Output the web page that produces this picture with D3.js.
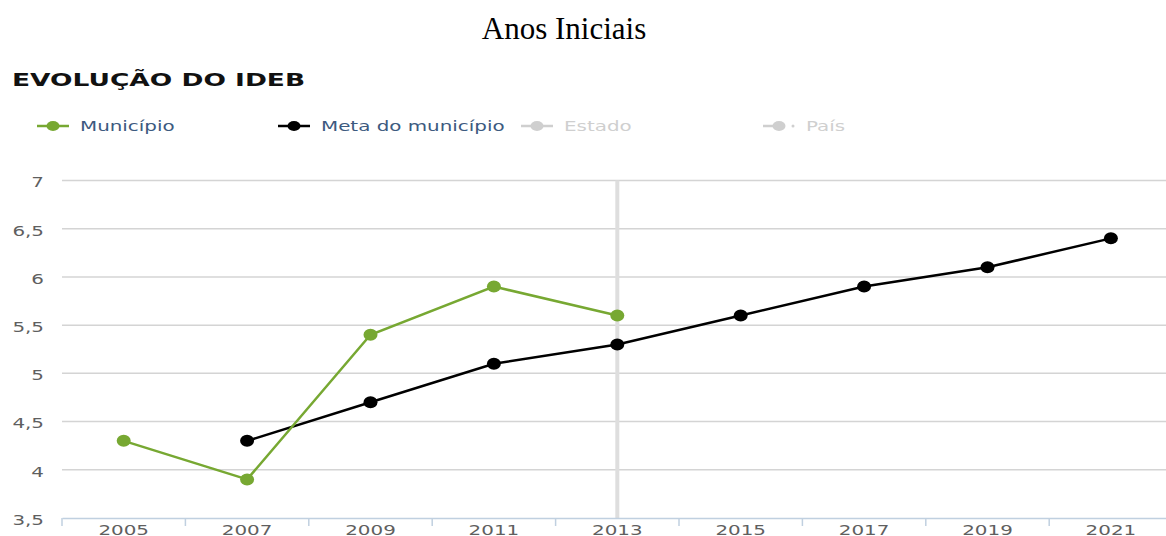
<!DOCTYPE html>
<html>
<head>
<meta charset="utf-8">
<script src="https://cdn.jsdelivr.net/npm/d3@7"></script>
<style>
  body { margin: 0; background: #fff; }
  svg { display: block; }
</style>
</head>
<body>
<svg id="chart" width="1166" height="536"></svg>
<script>
// anos / valores
var years = ['2005', '2007', '2009', '2011', '2013', '2015', '2017', '2019', '2021'];
var municipio = [
  {year: '2005', value: 4.3},
  {year: '2007', value: 3.9},
  {year: '2009', value: 5.4},
  {year: '2011', value: 5.9},
  {year: '2013', value: 5.6}
];
var metaMunicipio = [
  {year: '2007', value: 4.3},
  {year: '2009', value: 4.7},
  {year: '2011', value: 5.1},
  {year: '2013', value: 5.3},
  {year: '2015', value: 5.6},
  {year: '2017', value: 5.9},
  {year: '2019', value: 6.1},
  {year: '2021', value: 6.4}
];
var yTicks = [3.5, 4, 4.5, 5, 5.5, 6, 6.5, 7];
var legendItems = [
  {name: 'Município', color: '#77a832', text: '#3d5a80', x: 37},
  {name: 'Meta do município', color: '#000', text: '#3d5a80', x: 278},
  {name: 'Estado', color: '#cfcfcf', text: '#cfcfcf', x: 521},
  {name: 'País', color: '#cfcfcf', text: '#cfcfcf', x: 763}
];
var highlightYear = '2013';

var svg = d3.select('#chart');
var width = 1166, height = 536;

var x = d3.scaleBand().domain(years).range([62, 62 + 9 * 123.4]);
var y = d3.scaleLinear().domain([3.5, 7]).range([518, 180.5]);

var sans = 'DejaVu Sans, Verdana, sans-serif';
var stretch = 'scale(1.42,1)'; // o print original esta esticado na horizontal

// titulo
svg.append('text')
  .attr('x', 564).attr('y', 39)
  .attr('text-anchor', 'middle')
  .style('font-family', '"Liberation Serif", "Times New Roman", serif')
  .style('font-size', '31px')
  .attr('fill', '#000')
  .text('Anos Iniciais');

svg.append('text')
  .attr('transform', 'translate(12,86) scale(1.47,1)')
  .style('font-family', sans)
  .style('font-weight', 'bold')
  .style('font-size', '18px')
  .attr('fill', '#111')
  .text('EVOLUÇÃO DO IDEB');

// legenda
var leg = svg.append('g').selectAll('g').data(legendItems).join('g')
  .attr('transform', function(d) { return 'translate(' + d.x + ',126)'; });
leg.append('line')
  .attr('x1', 0).attr('x2', function(d) { return d.name === 'País' ? 22 : 32; })
  .attr('stroke', function(d) { return d.color; })
  .attr('stroke-width', 2.5);
leg.filter(function(d) { return d.name === 'País'; }).append('circle')
  .attr('cx', 30).attr('r', 1.5)
  .attr('fill', function(d) { return d.color; });
leg.append('ellipse')
  .attr('cx', 16).attr('rx', 6.5).attr('ry', 5)
  .attr('fill', function(d) { return d.color; });
leg.append('text')
  .attr('transform', 'translate(43,0) ' + stretch)
  .attr('dy', '0.35em')
  .style('font-family', sans)
  .style('font-size', '14px')
  .attr('fill', function(d) { return d.text; })
  .text(function(d) { return d.name; });

// grade
svg.append('g').selectAll('line').data(yTicks.slice(1)).join('line')
  .attr('x1', 62).attr('x2', width)
  .attr('y1', function(d) { return y(d); })
  .attr('y2', function(d) { return y(d); })
  .attr('stroke', '#d4d4d4')
  .attr('stroke-width', 1.5);

// linha de destaque
svg.append('line')
  .attr('x1', x(highlightYear) + x.bandwidth() / 2)
  .attr('x2', x(highlightYear) + x.bandwidth() / 2)
  .attr('y1', y(7)).attr('y2', y(3.5))
  .attr('stroke', '#dedede')
  .attr('stroke-width', 4);

// eixo y
svg.append('g').selectAll('text').data(yTicks).join('text')
  .attr('transform', function(d) { return 'translate(44,' + (y(d) + 2) + ') ' + stretch; })
  .attr('dy', '0.35em')
  .attr('text-anchor', 'end')
  .style('font-family', sans)
  .style('font-size', '14px')
  .attr('fill', '#5f5f5f')
  .text(function(d) { return String(d).replace('.', ','); });

// eixo x
var xAxis = svg.append('g')
  .attr('transform', 'translate(0,' + y(3.5) + ')')
  .call(d3.axisBottom(x).tickSize(0).tickPadding(7));
xAxis.select('.domain').attr('stroke', '#c0d0e0').attr('stroke-width', 1.5);
xAxis.selectAll('text')
  .attr('transform', stretch)
  .style('font-family', sans)
  .style('font-size', '14px')
  .attr('fill', '#5f5f5f');
xAxis.selectAll('.sep').data(years).join('line')
  .attr('class', 'sep')
  .attr('x1', function(d) { return x(d); })
  .attr('x2', function(d) { return x(d); })
  .attr('y1', 0).attr('y2', 8)
  .attr('stroke', '#c0d0e0')
  .attr('stroke-width', 1.5);

var line = d3.line()
  .x(function(d) { return x(d.year) + x.bandwidth() / 2; })
  .y(function(d) { return y(d.value); });

function drawSeries(data, color) {
  svg.append('path')
    .datum(data)
    .attr('d', line)
    .attr('fill', 'none')
    .attr('stroke', color)
    .attr('stroke-width', 2.5);
  svg.append('g').selectAll('ellipse').data(data).join('ellipse')
    .attr('cx', function(d) { return x(d.year) + x.bandwidth() / 2; })
    .attr('cy', function(d) { return y(d.value); })
    .attr('rx', 7).attr('ry', 6)
    .attr('fill', color);
}

drawSeries(metaMunicipio, '#000');
drawSeries(municipio, '#77a832');
</script>
</body>
</html>
